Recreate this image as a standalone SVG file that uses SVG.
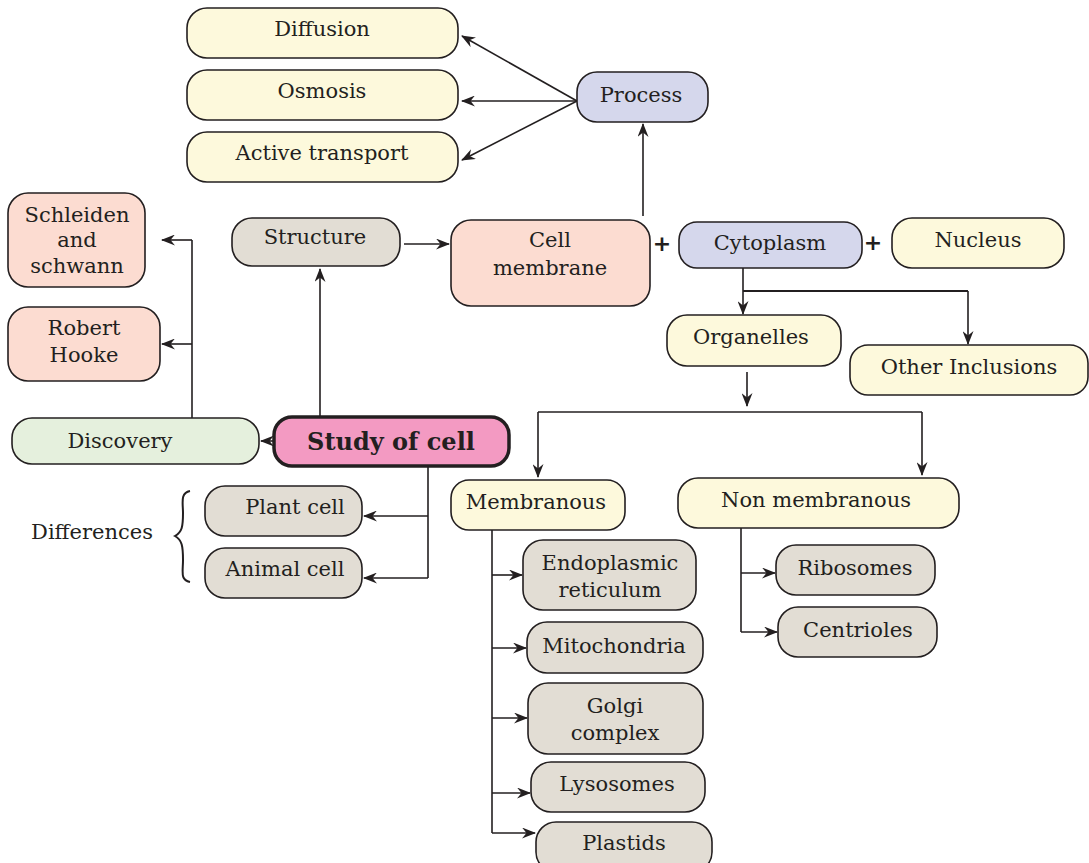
<svg xmlns="http://www.w3.org/2000/svg" width="1089" height="863" viewBox="0 0 1089 863">
<defs>
<marker id="arr" viewBox="0 0 14 11" markerWidth="14" markerHeight="11" refX="13" refY="5.5" orient="auto" markerUnits="userSpaceOnUse">
<path d="M0,0 L14,5.5 L0,11 L4.5,5.5 z" fill="#231f20"/>
</marker>
<style>
.n{stroke:#231f20;stroke-width:1.6}
.y{fill:#fdf9dc}
.l{fill:#d5d7ec}
.s{fill:#fcdcd1}
.g{fill:#e2ddd4}
.gr{fill:#e5f0dd}
.t{font-family:"DejaVu Serif","Liberation Serif",serif;font-size:21px;fill:#231f20;text-anchor:middle}
.c{fill:none;stroke:#231f20;stroke-width:1.6}
.a{marker-end:url(#arr)}
</style>
</defs>
<rect width="1089" height="863" fill="#ffffff"/>
<g id="connectors">
<path class="c a" d="M577,101 L462,36"/>
<path class="c a" d="M577,101 L462,101"/>
<path class="c a" d="M577,101 L462,160"/>
<path class="c a" d="M643,216 L643,124"/>
<path class="c a" d="M320,416 L320,269"/>
<path class="c a" d="M404,244 L449,244"/>
<path class="c a" d="M273,441 L261,441"/>
<path class="c" d="M192,418 L192,240"/>
<path class="c a" d="M192,240 L162,240"/>
<path class="c a" d="M192,344 L162,344"/>
<path class="c" d="M428,466 L428,578"/>
<path class="c a" d="M428,516 L364,516"/>
<path class="c a" d="M428,578 L364,578"/>
<path class="c a" d="M743,268 L743,314"/>
<path class="c" d="M743,291 L968,291" style="stroke-width:2.2"/>
<path class="c a" d="M968,291 L968,344"/>
<path class="c a" d="M747,372 L747,406"/>
<path class="c" d="M538,412 L922,412"/>
<path class="c a" d="M538,412 L538,477"/>
<path class="c a" d="M922,412 L922,475"/>
<path class="c" d="M492,530 L492,833"/>
<path class="c a" d="M492,575 L522,575"/>
<path class="c a" d="M492,648 L526,648"/>
<path class="c a" d="M492,718 L527,718"/>
<path class="c a" d="M492,793 L530,793"/>
<path class="c a" d="M492,833 L535,833"/>
<path class="c" d="M741,528 L741,632"/>
<path class="c a" d="M741,573 L775,573"/>
<path class="c a" d="M741,632 L777,632"/>
</g>
<g id="diffusion"><rect class="n y" x="187" y="8" width="271" height="50" rx="20"/><text class="t" x="322" y="36">Diffusion</text></g>
<g id="osmosis"><rect class="n y" x="187" y="70" width="271" height="50" rx="20"/><text class="t" x="322" y="98">Osmosis</text></g>
<g id="active"><rect class="n y" x="187" y="132" width="271" height="50" rx="20"/><text class="t" x="322" y="160">Active transport</text></g>
<g id="process"><rect class="n l" x="577" y="72" width="131" height="50" rx="20"/><text class="t" x="641" y="102">Process</text></g>
<g id="schleiden"><rect class="n s" x="8" y="193" width="137" height="94" rx="20"/><text class="t" x="77" y="222">Schleiden</text><text class="t" x="77" y="247">and</text><text class="t" x="77" y="273">schwann</text></g>
<g id="hooke"><rect class="n s" x="8" y="307" width="152" height="74" rx="20"/><text class="t" x="84" y="335">Robert</text><text class="t" x="84" y="362">Hooke</text></g>
<g id="structure"><rect class="n g" x="232" y="218" width="168" height="48" rx="20"/><text class="t" x="315" y="244">Structure</text></g>
<g id="cellmembrane"><rect class="n s" x="451" y="220" width="199" height="86" rx="20"/><text class="t" x="550" y="247">Cell</text><text class="t" x="550" y="275">membrane</text></g>
<g id="plus1"><text x="662" y="251" style="font-family:'DejaVu Sans',sans-serif;font-size:22px;font-weight:bold;fill:#231f20;text-anchor:middle">+</text></g>
<g id="cytoplasm"><rect class="n l" x="679" y="222" width="183" height="46" rx="18"/><text class="t" x="770" y="250">Cytoplasm</text></g>
<g id="plus2"><text x="873" y="250" style="font-family:'DejaVu Sans',sans-serif;font-size:22px;font-weight:bold;fill:#231f20;text-anchor:middle">+</text></g>
<g id="nucleus"><rect class="n y" x="892" y="218" width="172" height="50" rx="20"/><text class="t" x="978" y="247">Nucleus</text></g>
<g id="organelles"><rect class="n y" x="667" y="315" width="174" height="51" rx="20"/><text class="t" x="751" y="344">Organelles</text></g>
<g id="inclusions"><rect class="n y" x="850" y="345" width="238" height="50" rx="18"/><text class="t" x="969" y="374">Other Inclusions</text></g>
<g id="discovery"><rect class="n gr" x="12" y="418" width="247" height="46" rx="20"/><text class="t" x="120" y="448">Discovery</text></g>
<g id="study"><rect x="274" y="417" width="235" height="49" rx="18" fill="#f39ac2" stroke="#231f20" stroke-width="3.5"/><text x="391" y="450" style="font-family:'DejaVu Serif','Liberation Serif',serif;font-size:24px;font-weight:bold;fill:#231f20;text-anchor:middle">Study of cell</text></g>
<g id="differences"><text class="t" x="92" y="539">Differences</text><path d="M190,491 C180,493 183,503 183,513 C183,527 182,532 175,536 C182,540 183,546 183,560 C183,572 180,580 190,582" fill="none" stroke="#231f20" stroke-width="2"/></g>
<g id="plantcell"><rect class="n g" x="205" y="486" width="157" height="50" rx="20"/><text class="t" x="295" y="514">Plant cell</text></g>
<g id="animalcell"><rect class="n g" x="205" y="548" width="157" height="50" rx="20"/><text class="t" x="285" y="576">Animal cell</text></g>
<g id="membranous"><rect class="n y" x="451" y="480" width="174" height="50" rx="18"/><text class="t" x="536" y="509">Membranous</text></g>
<g id="nonmembranous"><rect class="n y" x="678" y="478" width="281" height="50" rx="20"/><text class="t" x="816" y="507">Non membranous</text></g>
<g id="er"><rect class="n g" x="523" y="540" width="173" height="70" rx="20"/><text class="t" x="610" y="570">Endoplasmic</text><text class="t" x="610" y="597">reticulum</text></g>
<g id="mito"><rect class="n g" x="527" y="622" width="176" height="51" rx="20"/><text class="t" x="614" y="653">Mitochondria</text></g>
<g id="golgi"><rect class="n g" x="528" y="683" width="175" height="71" rx="20"/><text class="t" x="615" y="713">Golgi</text><text class="t" x="615" y="740">complex</text></g>
<g id="lyso"><rect class="n g" x="531" y="762" width="174" height="50" rx="20"/><text class="t" x="617" y="791">Lysosomes</text></g>
<g id="plastids"><rect class="n g" x="536" y="822" width="176" height="50" rx="20"/><text class="t" x="624" y="850">Plastids</text></g>
<g id="ribosomes"><rect class="n g" x="776" y="545" width="159" height="50" rx="20"/><text class="t" x="855" y="575">Ribosomes</text></g>
<g id="centrioles"><rect class="n g" x="778" y="607" width="159" height="50" rx="20"/><text class="t" x="858" y="637">Centrioles</text></g>
</svg>
